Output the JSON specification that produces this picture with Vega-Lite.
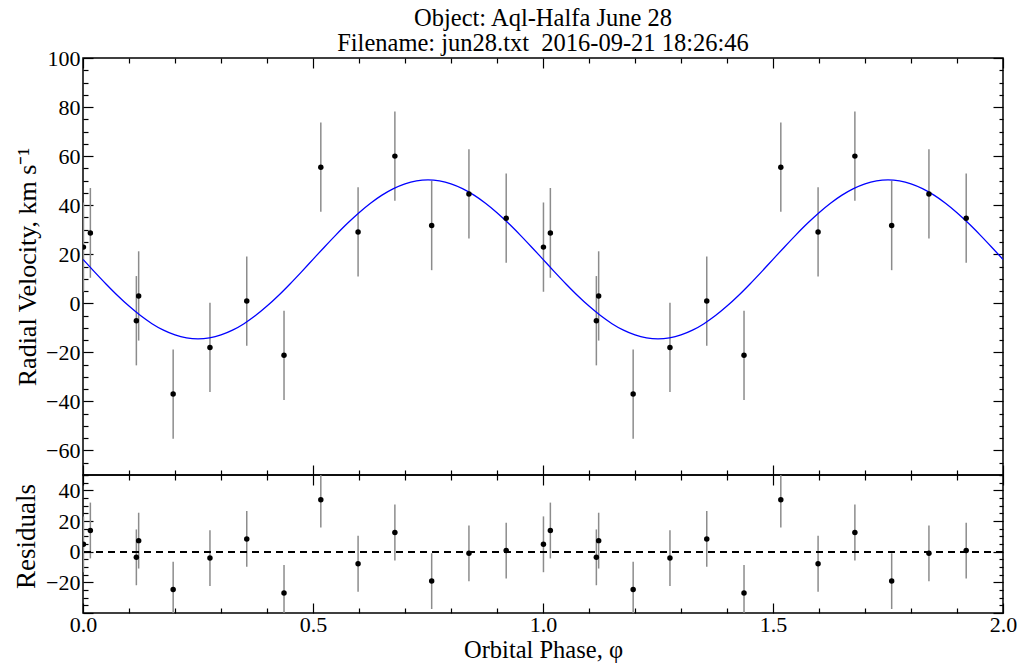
{
  "$schema": "https://vega.github.io/schema/vega-lite/v6.json",
  "padding": {"left": 11, "top": 5, "right": 5, "bottom": 5},
  "title": {
    "text": ["Object: Aql-Halfa June 28", "Filename: jun28.txt\u00a0 2016-09-21 18:26:46"],
    "font": "Liberation Serif",
    "fontSize": 24.5,
    "fontWeight": "normal",
    "color": "#000",
    "anchor": "middle",
    "frame": "group",
    "lineHeight": 25,
    "offset": -10
  },
  "datasets": {
    "obs": [
      {"phase": 0.001, "rv": 22.9, "rv_lo": 4.7, "rv_hi": 41.1, "res": 4.8, "res_lo": -13.4, "res_hi": 23.0},
      {"phase": 0.016, "rv": 28.7, "rv_lo": 10.4, "rv_hi": 47.0, "res": 13.8, "res_lo": -4.4, "res_hi": 32.0},
      {"phase": 0.116, "rv": -7.1, "rv_lo": -25.3, "rv_hi": 11.1, "res": -3.7, "res_lo": -21.9, "res_hi": 14.5},
      {"phase": 0.121, "rv": 3.0, "rv_lo": -15.2, "rv_hi": 21.2, "res": 7.2, "res_lo": -11.0, "res_hi": 25.4},
      {"phase": 0.196, "rv": -37.0, "rv_lo": -55.2, "rv_hi": -18.8, "res": -24.7, "res_lo": -42.9, "res_hi": -6.5},
      {"phase": 0.276, "rv": -18.0, "rv_lo": -36.2, "rv_hi": 0.2, "res": -4.2, "res_lo": -22.4, "res_hi": 14.0},
      {"phase": 0.356, "rv": 0.9, "rv_lo": -17.3, "rv_hi": 19.1, "res": 8.3, "res_lo": -9.9, "res_hi": 26.5},
      {"phase": 0.437, "rv": -21.2, "rv_lo": -39.4, "rv_hi": -3.0, "res": -26.9, "res_lo": -45.1, "res_hi": -8.7},
      {"phase": 0.517, "rv": 55.5, "rv_lo": 37.3, "rv_hi": 73.7, "res": 33.9, "res_lo": 15.7, "res_hi": 52.1},
      {"phase": 0.598, "rv": 29.1, "rv_lo": 10.9, "rv_hi": 47.3, "res": -7.9, "res_lo": -26.1, "res_hi": 10.3},
      {"phase": 0.678, "rv": 60.0, "rv_lo": 41.8, "rv_hi": 78.2, "res": 12.5, "res_lo": -5.7, "res_hi": 30.7},
      {"phase": 0.758, "rv": 31.7, "rv_lo": 13.5, "rv_hi": 49.9, "res": -19.2, "res_lo": -37.4, "res_hi": -1.0},
      {"phase": 0.839, "rv": 44.6, "rv_lo": 26.4, "rv_hi": 62.8, "res": -1.1, "res_lo": -19.3, "res_hi": 17.1},
      {"phase": 0.920, "rv": 34.7, "rv_lo": 16.5, "rv_hi": 52.9, "res": 0.7, "res_lo": -17.5, "res_hi": 18.9},
      {"phase": 1.001, "rv": 22.9, "rv_lo": 4.7, "rv_hi": 41.1, "res": 4.8, "res_lo": -13.4, "res_hi": 23.0},
      {"phase": 1.016, "rv": 28.7, "rv_lo": 10.4, "rv_hi": 47.0, "res": 13.8, "res_lo": -4.4, "res_hi": 32.0},
      {"phase": 1.116, "rv": -7.1, "rv_lo": -25.3, "rv_hi": 11.1, "res": -3.7, "res_lo": -21.9, "res_hi": 14.5},
      {"phase": 1.121, "rv": 3.0, "rv_lo": -15.2, "rv_hi": 21.2, "res": 7.2, "res_lo": -11.0, "res_hi": 25.4},
      {"phase": 1.196, "rv": -37.0, "rv_lo": -55.2, "rv_hi": -18.8, "res": -24.7, "res_lo": -42.9, "res_hi": -6.5},
      {"phase": 1.276, "rv": -18.0, "rv_lo": -36.2, "rv_hi": 0.2, "res": -4.2, "res_lo": -22.4, "res_hi": 14.0},
      {"phase": 1.356, "rv": 0.9, "rv_lo": -17.3, "rv_hi": 19.1, "res": 8.3, "res_lo": -9.9, "res_hi": 26.5},
      {"phase": 1.437, "rv": -21.2, "rv_lo": -39.4, "rv_hi": -3.0, "res": -26.9, "res_lo": -45.1, "res_hi": -8.7},
      {"phase": 1.517, "rv": 55.5, "rv_lo": 37.3, "rv_hi": 73.7, "res": 33.9, "res_lo": 15.7, "res_hi": 52.1},
      {"phase": 1.598, "rv": 29.1, "rv_lo": 10.9, "rv_hi": 47.3, "res": -7.9, "res_lo": -26.1, "res_hi": 10.3},
      {"phase": 1.678, "rv": 60.0, "rv_lo": 41.8, "rv_hi": 78.2, "res": 12.5, "res_lo": -5.7, "res_hi": 30.7},
      {"phase": 1.758, "rv": 31.7, "rv_lo": 13.5, "rv_hi": 49.9, "res": -19.2, "res_lo": -37.4, "res_hi": -1.0},
      {"phase": 1.839, "rv": 44.6, "rv_lo": 26.4, "rv_hi": 62.8, "res": -1.1, "res_lo": -19.3, "res_hi": 17.1},
      {"phase": 1.920, "rv": 34.7, "rv_lo": 16.5, "rv_hi": 52.9, "res": 0.7, "res_lo": -17.5, "res_hi": 18.9}
    ],
    "curve": [
      {"phase": 0.0, "v": 17.9}, {"phase": 0.025, "v": 12.83}, {"phase": 0.05, "v": 7.89}, {"phase": 0.075, "v": 3.19},
      {"phase": 0.1, "v": -1.14}, {"phase": 0.125, "v": -5.01}, {"phase": 0.15, "v": -8.31}, {"phase": 0.175, "v": -10.97},
      {"phase": 0.2, "v": -12.92}, {"phase": 0.225, "v": -14.1}, {"phase": 0.25, "v": -14.5}, {"phase": 0.275, "v": -14.1},
      {"phase": 0.3, "v": -12.92}, {"phase": 0.325, "v": -10.97}, {"phase": 0.35, "v": -8.31}, {"phase": 0.375, "v": -5.01},
      {"phase": 0.4, "v": -1.14}, {"phase": 0.425, "v": 3.19}, {"phase": 0.45, "v": 7.89}, {"phase": 0.475, "v": 12.83},
      {"phase": 0.5, "v": 17.9}, {"phase": 0.525, "v": 22.97}, {"phase": 0.55, "v": 27.91}, {"phase": 0.575, "v": 32.61},
      {"phase": 0.6, "v": 36.94}, {"phase": 0.625, "v": 40.81}, {"phase": 0.65, "v": 44.11}, {"phase": 0.675, "v": 46.77},
      {"phase": 0.7, "v": 48.72}, {"phase": 0.725, "v": 49.9}, {"phase": 0.75, "v": 50.3}, {"phase": 0.775, "v": 49.9},
      {"phase": 0.8, "v": 48.72}, {"phase": 0.825, "v": 46.77}, {"phase": 0.85, "v": 44.11}, {"phase": 0.875, "v": 40.81},
      {"phase": 0.9, "v": 36.94}, {"phase": 0.925, "v": 32.61}, {"phase": 0.95, "v": 27.91}, {"phase": 0.975, "v": 22.97},
      {"phase": 1.0, "v": 17.9}, {"phase": 1.025, "v": 12.83}, {"phase": 1.05, "v": 7.89}, {"phase": 1.075, "v": 3.19},
      {"phase": 1.1, "v": -1.14}, {"phase": 1.125, "v": -5.01}, {"phase": 1.15, "v": -8.31}, {"phase": 1.175, "v": -10.97},
      {"phase": 1.2, "v": -12.92}, {"phase": 1.225, "v": -14.1}, {"phase": 1.25, "v": -14.5}, {"phase": 1.275, "v": -14.1},
      {"phase": 1.3, "v": -12.92}, {"phase": 1.325, "v": -10.97}, {"phase": 1.35, "v": -8.31}, {"phase": 1.375, "v": -5.01},
      {"phase": 1.4, "v": -1.14}, {"phase": 1.425, "v": 3.19}, {"phase": 1.45, "v": 7.89}, {"phase": 1.475, "v": 12.83},
      {"phase": 1.5, "v": 17.9}, {"phase": 1.525, "v": 22.97}, {"phase": 1.55, "v": 27.91}, {"phase": 1.575, "v": 32.61},
      {"phase": 1.6, "v": 36.94}, {"phase": 1.625, "v": 40.81}, {"phase": 1.65, "v": 44.11}, {"phase": 1.675, "v": 46.77},
      {"phase": 1.7, "v": 48.72}, {"phase": 1.725, "v": 49.9}, {"phase": 1.75, "v": 50.3}, {"phase": 1.775, "v": 49.9},
      {"phase": 1.8, "v": 48.72}, {"phase": 1.825, "v": 46.77}, {"phase": 1.85, "v": 44.11}, {"phase": 1.875, "v": 40.81},
      {"phase": 1.9, "v": 36.94}, {"phase": 1.925, "v": 32.61}, {"phase": 1.95, "v": 27.91}, {"phase": 1.975, "v": 22.97},
      {"phase": 2.0, "v": 17.9}
    ]
  },
  "vconcat": [
    {
      "width": 920,
      "height": 417,
      "data": {"name": "obs"},
      "layer": [
        {
          "mark": {"type": "rule", "color": "#8c8c8c", "strokeWidth": 1.5, "clip": true},
          "encoding": {
            "x": {"field": "phase", "type": "quantitative",
              "scale": {"domain": [0, 2], "nice": false, "zero": false},
              "axis": {"orient": "bottom", "title": null, "labels": false,
                "values": [0,0.1,0.2,0.3,0.4,0.5,0.6,0.7,0.8,0.9,1,1.1,1.2,1.3,1.4,1.5,1.6,1.7,1.8,1.9,2],
                "tickSize": -10,
                "tickDash": {"condition": {"test": "abs(datum.value*2 - round(datum.value*2)) > 0.001", "value": [5, 30]}, "value": []}}},
            "y": {"field": "rv_lo", "type": "quantitative",
              "scale": {"domain": [-70, 100], "nice": false, "zero": false},
              "axis": {"orient": "left", "title": "Radial Velocity, km s\u207b\u00b9",
                "titleFontSize": 26,
                "values": [-70,-65,-60,-55,-50,-45,-40,-35,-30,-25,-20,-15,-10,-5,0,5,10,15,20,25,30,35,40,45,50,55,60,65,70,75,80,85,90,95,100],
                "labelExpr": "datum.value % 20 === 0 ? replace(format(datum.value, 'd'), '-', '\u2212') : ''",
                "labelFont": "Liberation Serif", "labelFontSize": 22,
                "tickSize": -10, "labelPadding": 13, "minExtent": 32, "maxExtent": 32, "titlePadding": 11,
                "tickDash": {"condition": {"test": "datum.value % 20 !== 0", "value": [5, 30]}, "value": []}}},
            "y2": {"field": "rv_hi"}
          }
        },
        {
          "data": {"name": "curve"},
          "mark": {"type": "line", "color": "#0000ff", "strokeWidth": 1.3, "interpolate": "monotone", "clip": true},
          "encoding": {
            "x": {"field": "phase", "type": "quantitative",
              "scale": {"domain": [0, 2], "nice": false, "zero": false},
              "axis": {"orient": "top", "title": null, "labels": false,
                "values": [0,0.1,0.2,0.3,0.4,0.5,0.6,0.7,0.8,0.9,1,1.1,1.2,1.3,1.4,1.5,1.6,1.7,1.8,1.9,2],
                "tickSize": -10,
                "tickDash": {"condition": {"test": "abs(datum.value*2 - round(datum.value*2)) > 0.001", "value": [5, 30]}, "value": []}}},
            "y": {"field": "v", "type": "quantitative",
              "scale": {"domain": [-70, 100], "nice": false, "zero": false},
              "axis": {"orient": "right", "title": null, "labels": false,
                "values": [-70,-65,-60,-55,-50,-45,-40,-35,-30,-25,-20,-15,-10,-5,0,5,10,15,20,25,30,35,40,45,50,55,60,65,70,75,80,85,90,95,100],
                "tickSize": -10,
                "tickDash": {"condition": {"test": "datum.value % 20 !== 0", "value": [4, 30]}, "value": []}}}
          }
        },
        {
          "mark": {"type": "circle", "color": "#000", "size": 30, "opacity": 1, "clip": true},
          "encoding": {
            "x": {"field": "phase", "type": "quantitative", "scale": {"domain": [0, 2], "nice": false, "zero": false}, "axis": null},
            "y": {"field": "rv", "type": "quantitative", "scale": {"domain": [-70, 100], "nice": false, "zero": false}, "axis": null}
          }
        }
      ],
      "resolve": {"scale": {"x": "independent", "y": "independent"}, "axis": {"x": "independent", "y": "independent"}}
    },
    {
      "width": 920,
      "height": 138,
      "data": {"name": "obs"},
      "layer": [
        {
          "mark": {"type": "rule", "color": "#8c8c8c", "strokeWidth": 1.5, "clip": true},
          "encoding": {
            "x": {"field": "phase", "type": "quantitative",
              "scale": {"domain": [0, 2], "nice": false, "zero": false},
              "axis": {"orient": "bottom", "title": "Orbital Phase, \u03c6",
                "values": [0,0.1,0.2,0.3,0.4,0.5,0.6,0.7,0.8,0.9,1,1.1,1.2,1.3,1.4,1.5,1.6,1.7,1.8,1.9,2],
                "labelExpr": "abs(datum.value*2 - round(datum.value*2)) < 0.001 ? format(datum.value, '.1f') : ''",
                "labelFont": "Liberation Serif", "labelFontSize": 22,
                "tickSize": -10, "labelPadding": 11, "titlePadding": 3,
                "tickDash": {"condition": {"test": "abs(datum.value*2 - round(datum.value*2)) > 0.001", "value": [5, 30]}, "value": []}}},
            "y": {"field": "res_lo", "type": "quantitative",
              "scale": {"domain": [-40, 50], "nice": false, "zero": false},
              "axis": {"orient": "left", "title": "Residuals",
                "titleFontSize": 27, "titleY": 61,
                "values": [-40,-35,-30,-25,-20,-15,-10,-5,0,5,10,15,20,25,30,35,40,45,50],
                "labelExpr": "datum.value % 20 === 0 && datum.value > -40 ? replace(format(datum.value, 'd'), '-', '\u2212') : ''",
                "labelFont": "Liberation Serif", "labelFontSize": 22,
                "tickSize": -10, "labelPadding": 13, "minExtent": 32, "maxExtent": 32, "titlePadding": 11,
                "tickDash": {"condition": {"test": "datum.value % 20 !== 0", "value": [5, 30]}, "value": []}}},
            "y2": {"field": "res_hi"}
          }
        },
        {
          "mark": {"type": "rule", "color": "#000", "strokeWidth": 1.3, "strokeDash": [7, 5]},
          "encoding": {
            "y": {"datum": 0, "type": "quantitative", "scale": {"domain": [-40, 50], "nice": false, "zero": false}, "axis": null}
          }
        },
        {
          "mark": {"type": "circle", "color": "#000", "size": 30, "opacity": 1, "clip": true},
          "encoding": {
            "x": {"field": "phase", "type": "quantitative",
              "scale": {"domain": [0, 2], "nice": false, "zero": false},
              "axis": {"orient": "top", "title": null, "labels": false,
                "values": [0,0.1,0.2,0.3,0.4,0.5,0.6,0.7,0.8,0.9,1,1.1,1.2,1.3,1.4,1.5,1.6,1.7,1.8,1.9,2],
                "tickSize": -10,
                "tickDash": {"condition": {"test": "abs(datum.value*2 - round(datum.value*2)) > 0.001", "value": [5, 30]}, "value": []}}},
            "y": {"field": "res", "type": "quantitative",
              "scale": {"domain": [-40, 50], "nice": false, "zero": false},
              "axis": {"orient": "right", "title": null, "labels": false,
                "values": [-40,-35,-30,-25,-20,-15,-10,-5,0,5,10,15,20,25,30,35,40,45,50],
                "tickSize": -10,
                "tickDash": {"condition": {"test": "datum.value % 20 !== 0", "value": [4, 30]}, "value": []}}}
          }
        }
      ],
      "resolve": {"scale": {"x": "independent", "y": "independent"}, "axis": {"x": "independent", "y": "independent"}}
    }
  ],
  "spacing": 0,
  "bounds": "flush",
  "config": {
    "font": "Liberation Serif",
    "view": {"stroke": "#000", "strokeWidth": 1.5},
    "axis": {
      "domain": false,
      "grid": false,
      "ticks": true,
      "zindex": 1,
      "labelFont": "Liberation Serif",
      "labelFontSize": 22,
      "labelColor": "#000",
      "titleFont": "Liberation Serif",
      "titleFontSize": 24.5,
      "titleFontWeight": "normal",
      "titleColor": "#000",
      "tickColor": "#000",
      "tickWidth": 1.2,
      "labelFlush": false,
      "labelOverlap": false
    }
  }
}
